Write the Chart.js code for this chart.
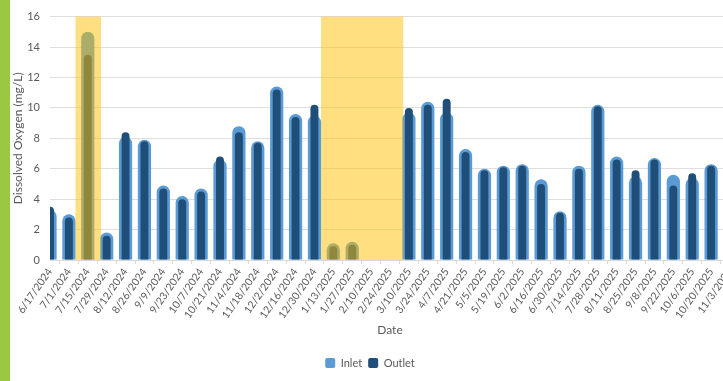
<!DOCTYPE html>
<html>
<head>
<meta charset="utf-8">
<script src="https://cdn.jsdelivr.net/npm/chart.js@4.4.1/dist/chart.umd.min.js"></script>
<style>
  html, body { margin: 0; padding: 0; width: 723px; height: 381px; overflow: hidden; background: #ffffff; }
  #strip { position: absolute; left: 0; top: 0; width: 10px; height: 381px; background: #9BC841; }
  #wrap { position: absolute; left: 10px; top: 0; width: 724px; height: 381px; }
</style>
</head>
<body>
<div id="strip"></div>
<div id="wrap"><canvas id="c" width="724" height="381"></canvas></div>
<script>
// ---- data ----
const dates = ["6/17/2024","7/1/2024","7/15/2024","7/29/2024","8/12/2024","8/26/2024","9/9/2024","9/23/2024",
  "10/7/2024","10/21/2024","11/4/2024","11/18/2024","12/2/2024","12/16/2024","12/30/2024","1/13/2025",
  "1/27/2025","2/10/2025","2/24/2025","3/10/2025","3/24/2025","4/7/2025","4/21/2025","5/5/2025",
  "5/19/2025","6/2/2025","6/16/2025","6/30/2025","7/14/2025","7/28/2025","8/11/2025","8/25/2025",
  "9/8/2025","9/22/2025","10/6/2025","10/20/2025","11/3/2025"];
const inlet  = [3.3, 3.0, 15.0, 1.8, 8.1, 7.9, 4.9, 4.2, 4.7, 6.6, 8.8, 7.8, 11.4, 9.6, 9.5, 1.1,
  1.2, null, null, 9.7, 10.4, 9.7, 7.3, 6.0, 6.2, 6.3, 5.3, 3.2, 6.2, 10.2, 6.8, 5.5,
  6.7, 5.6, 5.4, 6.3, 8.2];
const outlet = [3.5, 2.8, 13.5, 1.6, 8.4, 7.8, 4.7, 4.0, 4.5, 6.8, 8.4, 7.7, 11.2, 9.4, 10.2, 0.9,
  1.0, null, null, 10.0, 10.2, 10.6, 7.1, 5.9, 6.1, 6.2, 5.0, 3.1, 6.0, 10.1, 6.6, 5.9,
  6.6, 4.9, 5.7, 6.2, 8.0];
const yTicks = [0, 2, 4, 6, 8, 10, 12, 14, 16];
// highlighted periods (first and last category of each band)
const highlightStart = ["7/15/2024", "1/13/2025"];
const highlightEnd   = ["7/15/2024", "2/24/2025"];

const textColor = '#595959';
const gridColor = '#DEDEDE';

const bandPlugin = {
  id: 'bands',
  afterDatasetsDraw(chart) {
    const x = chart.scales.x, area = chart.chartArea, ctx = chart.ctx;
    const step = x.getPixelForValue(1) - x.getPixelForValue(0);
    ctx.save();
    ctx.fillStyle = 'rgba(255,192,0,0.5)';
    for (let i = 0; i < highlightStart.length; i++) {
      const a = x.getPixelForValue(dates.indexOf(highlightStart[i])) - step * 0.65;
      const b = x.getPixelForValue(dates.indexOf(highlightEnd[i])) + step * 0.7;
      ctx.fillRect(a, area.top, b - a, area.bottom - area.top);
    }
    ctx.restore();
  }
};

new Chart(document.getElementById('c'), {
  type: 'bar',
  data: {
    labels: dates,
    datasets: [
      { label: 'Inlet', data: inlet, backgroundColor: '#5B9BD5', borderWidth: 0, grouped: false,
        barPercentage: 0.70, categoryPercentage: 1.0, borderRadius: 20, borderSkipped: 'bottom', order: 1 },
      { label: 'Outlet', data: outlet, backgroundColor: '#1F4E79', borderWidth: 0, grouped: false,
        barPercentage: 0.42, categoryPercentage: 1.0, borderRadius: 20, borderSkipped: 'bottom', order: 0 }
    ]
  },
  options: {
    responsive: false,
    animation: false,
    devicePixelRatio: 1,
    layout: { padding: { top: 8, right: 4, bottom: 2.5, left: 0 } },
    plugins: {
      tooltip: { enabled: false },
      legend: {
        position: 'bottom',
        labels: { color: textColor, font: { family: 'Lato', size: 11 }, boxWidth: 10, boxHeight: 10,
          padding: 6, useBorderRadius: true, borderRadius: 2,
          sort: (a, b) => a.datasetIndex - b.datasetIndex }
      }
    },
    scales: {
      x: {
        offset: false,
        grid: { display: true, drawOnChartArea: false, drawTicks: true, tickLength: 4, color: '#D9D9D9' },
        border: { display: true, color: '#D9D9D9' },
        ticks: { color: textColor, font: { family: 'Lato', size: 10.5 }, autoSkip: false,
          minRotation: 55, maxRotation: 55, padding: 2 },
        title: { display: true, text: 'Date', color: textColor, font: { family: 'Lato', size: 12 },
          padding: { top: 0, bottom: 14.3 } },
        afterFit(s) { s.height = 91.5; s.paddingLeft = 0; s.paddingRight = 0; }
      },
      y: {
        min: 0, max: 16,
        afterBuildTicks(s) { s.ticks = yTicks.map(v => ({ value: v })); },
        grid: { color: gridColor, drawTicks: false },
        border: { display: false },
        ticks: { color: textColor, font: { family: 'Lato', size: 11 }, padding: 10 },
        title: { display: true, text: 'Dissolved Oxygen (mg/L)', color: textColor,
          font: { family: 'Lato', size: 12 }, padding: { top: 1, bottom: 0 } },
        afterFit(s) { s.width = 40; }
      }
    }
  },
  plugins: [bandPlugin]
});
</script>
</body>
</html>
